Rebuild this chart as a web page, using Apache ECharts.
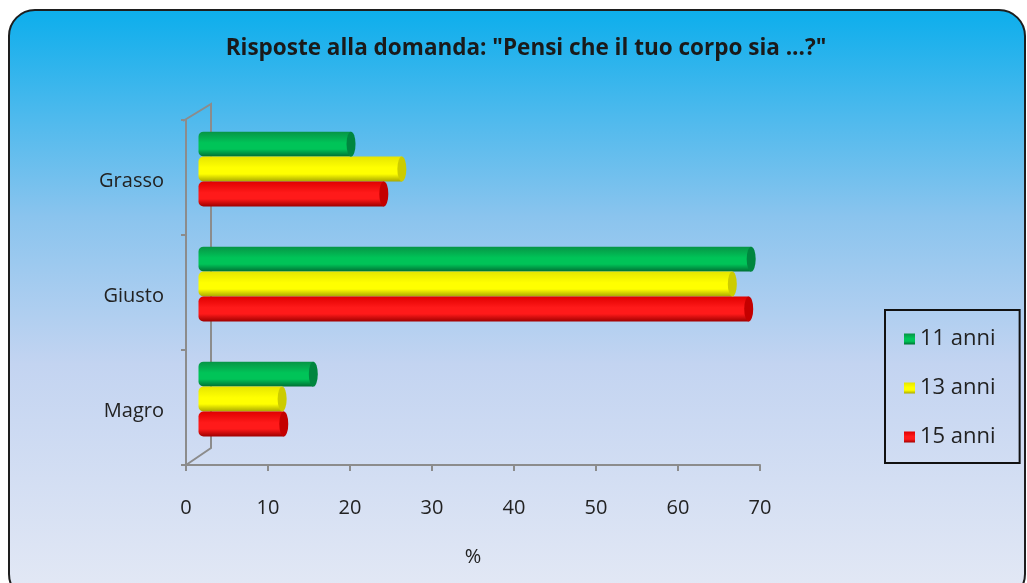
<!DOCTYPE html>
<html>
<head>
<meta charset="utf-8">
<script src="https://cdn.jsdelivr.net/npm/echarts@6/dist/echarts.min.js"></script>
<style>
  html, body { margin: 0; padding: 0; background: #ffffff; }
  #main { width: 1027px; height: 583px; }
</style>
</head>
<body>
<div id="main"></div>
<script>
var chart = echarts.init(document.getElementById("main"));

// dati (%)
var categories = ["Grasso", "Giusto", "Magro"];
var seriesNames = ["11 anni", "13 anni", "15 anni"];
var anni11 = [18.6, 67.4, 14];
var anni13 = [24.8, 65.1, 10.2];
var anni15 = [22.6, 67.1, 10.4];
var xTicks = [0, 70, 10]; // min, max, interval

// colori cilindri: bordo alto, centro, bordo basso, tappo
var palette = [
  ["#079445", "#00c458", "#006f33", "#00863f"],
  ["#e6e600", "#ffff00", "#a9a900", "#cccc00"],
  ["#e00000", "#ff1a1a", "#a00000", "#c40000"],
];

function cylinder(c) {
  return new echarts.graphic.LinearGradient(0, 0, 0, 1, [
    { offset: 0, color: c[0] },
    { offset: 0.45, color: c[1] },
    { offset: 0.7, color: c[1] },
    { offset: 1, color: c[2] },
  ]);
}

var values = [anni11, anni13, anni15];
var series = [];
values.forEach(function (v, i) {
  series.push({
    name: seriesNames[i],
    type: "bar",
    xAxisIndex: 1,
    yAxisIndex: 1,
    data: v,
    barGap: 0,
    barCategoryGap: "35%",
    itemStyle: {
      color: cylinder(palette[i]),
      borderRadius: [5, 0, 0, 5],
    },
    z: 3,
  });
});
// tappi ellittici in fondo ai cilindri
values.forEach(function (v, i) {
  series.push({
    name: "cap" + i,
    type: "pictorialBar",
    xAxisIndex: 1,
    yAxisIndex: 1,
    data: v,
    barGap: 0,
    barCategoryGap: "35%",
    symbol: "circle",
    symbolSize: [9, "100%"],
    symbolPosition: "end",
    symbolOffset: ["50%", 0],
    itemStyle: { color: palette[i][3] },
    silent: true,
    z: 4,
  });
});

var axisGrey = "#8c8c8c";
var labelFont = "Open Sans";

var option = {
  animation: false,
  graphic: [
    {
      type: "rect",
      z: -10,
      shape: { x: 9, y: 10, width: 1016, height: 590, r: 26 },
      style: {
        fill: new echarts.graphic.LinearGradient(0, 0, 0, 1, [
          { offset: 0, color: "#0caeec" },
          { offset: 0.35, color: "#8ac4ee" },
          { offset: 0.6, color: "#c3d4f1" },
          { offset: 1, color: "#e4e9f5" },
        ]),
        stroke: "#1e1e1e",
        lineWidth: 2,
      },
    },
    // parete 3D
    {
      type: "polyline",
      z: 1,
      shape: { points: [[183, 121], [211, 104], [211, 448], [186, 465]] },
      style: { stroke: axisGrey, lineWidth: 2, fill: null },
    },
  ],
  title: {
    text: 'Risposte alla domanda: "Pensi che il tuo corpo sia ...?"',
    left: 521,
    textAlign: "center",
    top: 32,
    textStyle: {
      fontFamily: labelFont,
      fontWeight: "bold",
      fontSize: 22.5,
      color: "#1a1a1a",
    },
  },
  legend: {
    data: seriesNames,
    orient: "vertical",
    left: 885,
    top: 310,
    padding: [18, 24, 15, 19],
    itemGap: 27,
    itemWidth: 11,
    itemHeight: 11,
    icon: "rect",
    borderColor: "#111111",
    borderWidth: 2,
    textStyle: { fontFamily: labelFont, fontSize: 22, color: "#222222" },
  },
  grid: [
    { left: 186, width: 574, top: 120, height: 345 },
    { left: 198.5, width: 574, top: 111.5, height: 345 },
  ],
  xAxis: [
    {
      type: "value",
      gridIndex: 0,
      min: xTicks[0],
      max: xTicks[1],
      interval: xTicks[2],
      name: "%",
      nameLocation: "middle",
      nameGap: 82,
      nameTextStyle: { fontFamily: labelFont, fontSize: 20, color: "#222222" },
      axisLine: { show: true, lineStyle: { color: axisGrey, width: 2 } },
      axisTick: { show: true, length: 6, lineStyle: { color: axisGrey, width: 2 } },
      axisLabel: { margin: 33, fontFamily: labelFont, fontSize: 20, color: "#222222" },
      splitLine: { show: false },
    },
    {
      type: "value",
      gridIndex: 1,
      min: xTicks[0],
      max: xTicks[1],
      show: false,
      splitLine: { show: false },
    },
  ],
  yAxis: [
    {
      type: "category",
      gridIndex: 0,
      data: categories,
      inverse: true,
      axisLine: { show: true, lineStyle: { color: axisGrey, width: 2 } },
      axisTick: { show: true, length: 5, lineStyle: { color: axisGrey, width: 2 } },
      axisLabel: {
        margin: 22,
        formatter: "{c|{value}}",
        rich: {
          c: { fontFamily: labelFont, fontSize: 20, color: "#222222", padding: [8, 0, 0, 0] },
        },
      },
    },
    {
      type: "category",
      gridIndex: 1,
      data: categories,
      inverse: true,
      show: false,
    },
  ],
  series: series,
};
chart.setOption(option);
</script>
</body>
</html>
